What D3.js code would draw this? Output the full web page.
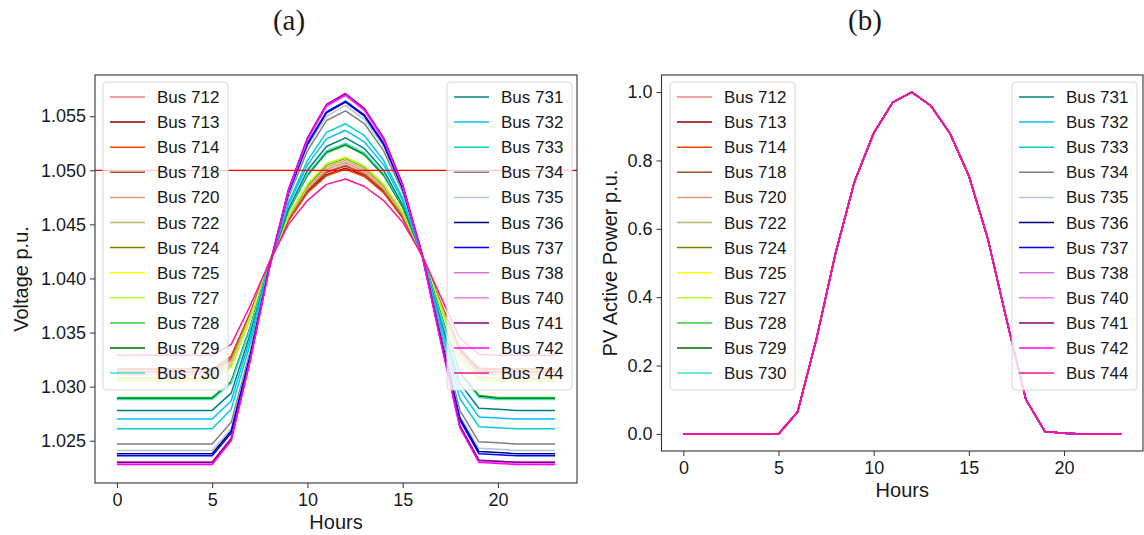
<!DOCTYPE html>
<html>
<head>
<meta charset="utf-8">
<script src="https://cdn.jsdelivr.net/npm/d3@7"></script>
<style>
  body { margin: 0; background: #fff; }
  text { font-family: "Liberation Sans", Arial, sans-serif; fill: #1a1a1a; }
</style>
</head>
<body>
<div id="chart"></div>
<script>
// hours of the day
const hours = [0,1,2,3,4,5,6,7,8,9,10,11,12,13,14,15,16,17,18,19,20,21,22,23];
const hourTicks = [0, 5, 10, 15, 20];
const voltTicks = [1.025, 1.030, 1.035, 1.040, 1.045, 1.050, 1.055];
const pvTicks = [0.0, 0.2, 0.4, 0.6, 0.8, 1.0];
const voltLimit = 1.050;

const buses = ["Bus 712","Bus 713","Bus 714","Bus 718","Bus 720","Bus 722","Bus 724","Bus 725",
  "Bus 727","Bus 728","Bus 729","Bus 730","Bus 731","Bus 732","Bus 733","Bus 734","Bus 735",
  "Bus 736","Bus 737","Bus 738","Bus 740","Bus 741","Bus 742","Bus 744"];

// bus voltages (p.u.) per hour
const v712 = [1.0313,1.0313,1.0313,1.0313,1.0313,1.0313,1.0325,1.0367,1.0415,1.0455,1.0482,1.0499,1.0505,1.0497,1.0482,1.0458,1.0422,1.0376,1.0332,1.0314,1.0313,1.0313,1.0313,1.0313];
const v713 = [1.0316,1.0316,1.0316,1.0316,1.0316,1.0316,1.0328,1.0368,1.0415,1.0454,1.0480,1.0496,1.0502,1.0495,1.0480,1.0456,1.0422,1.0377,1.0335,1.0317,1.0316,1.0316,1.0316,1.0316];
const v714 = [1.0316,1.0316,1.0316,1.0316,1.0316,1.0316,1.0328,1.0368,1.0414,1.0453,1.0479,1.0495,1.0501,1.0494,1.0479,1.0456,1.0421,1.0377,1.0334,1.0317,1.0316,1.0316,1.0316,1.0316];
const v718 = [1.0314,1.0314,1.0314,1.0314,1.0314,1.0314,1.0326,1.0367,1.0415,1.0455,1.0481,1.0498,1.0504,1.0496,1.0481,1.0457,1.0422,1.0377,1.0333,1.0315,1.0314,1.0314,1.0314,1.0314];
const v720 = [1.0311,1.0311,1.0311,1.0311,1.0311,1.0311,1.0324,1.0366,1.0415,1.0456,1.0483,1.0501,1.0507,1.0499,1.0483,1.0459,1.0423,1.0376,1.0331,1.0312,1.0311,1.0311,1.0311,1.0311];
const v722 = [1.0308,1.0308,1.0308,1.0308,1.0308,1.0308,1.0321,1.0364,1.0415,1.0457,1.0485,1.0503,1.0509,1.0501,1.0485,1.0460,1.0423,1.0374,1.0328,1.0309,1.0308,1.0308,1.0308,1.0308];
const v724 = [1.0306,1.0306,1.0306,1.0306,1.0306,1.0306,1.0319,1.0363,1.0415,1.0458,1.0486,1.0505,1.0511,1.0503,1.0486,1.0461,1.0423,1.0374,1.0326,1.0307,1.0306,1.0306,1.0306,1.0306];
const v725 = [1.0306,1.0306,1.0306,1.0306,1.0306,1.0306,1.0319,1.0364,1.0415,1.0458,1.0487,1.0506,1.0512,1.0504,1.0487,1.0462,1.0423,1.0374,1.0327,1.0307,1.0306,1.0306,1.0306,1.0306];
const v727 = [1.0305,1.0305,1.0305,1.0305,1.0305,1.0305,1.0318,1.0363,1.0415,1.0458,1.0487,1.0506,1.0512,1.0504,1.0487,1.0461,1.0423,1.0373,1.0326,1.0306,1.0305,1.0305,1.0305,1.0305];
const v728 = [1.0290,1.0290,1.0290,1.0290,1.0290,1.0290,1.0305,1.0355,1.0413,1.0462,1.0495,1.0516,1.0523,1.0514,1.0495,1.0466,1.0423,1.0367,1.0313,1.0292,1.0290,1.0290,1.0290,1.0290];
const v729 = [1.0289,1.0289,1.0289,1.0289,1.0289,1.0289,1.0304,1.0355,1.0414,1.0463,1.0496,1.0517,1.0524,1.0515,1.0496,1.0466,1.0423,1.0367,1.0313,1.0291,1.0289,1.0289,1.0289,1.0289];
const v730 = [1.0288,1.0288,1.0288,1.0288,1.0288,1.0288,1.0303,1.0354,1.0414,1.0463,1.0497,1.0518,1.0525,1.0516,1.0497,1.0467,1.0423,1.0366,1.0312,1.0290,1.0288,1.0288,1.0288,1.0288];
const v731 = [1.0278,1.0278,1.0278,1.0278,1.0278,1.0278,1.0294,1.0349,1.0412,1.0464,1.0500,1.0522,1.0530,1.0520,1.0500,1.0468,1.0422,1.0361,1.0303,1.0280,1.0279,1.0278,1.0278,1.0278];
const v732 = [1.0270,1.0270,1.0270,1.0270,1.0270,1.0270,1.0287,1.0345,1.0412,1.0468,1.0505,1.0529,1.0537,1.0526,1.0505,1.0472,1.0422,1.0358,1.0297,1.0272,1.0271,1.0270,1.0270,1.0270];
const v733 = [1.0261,1.0261,1.0261,1.0261,1.0261,1.0261,1.0279,1.0340,1.0410,1.0470,1.0509,1.0535,1.0543,1.0532,1.0509,1.0474,1.0422,1.0354,1.0289,1.0263,1.0262,1.0261,1.0261,1.0261];
const v734 = [1.0247,1.0247,1.0247,1.0247,1.0247,1.0247,1.0267,1.0333,1.0410,1.0475,1.0518,1.0546,1.0555,1.0543,1.0518,1.0480,1.0423,1.0349,1.0278,1.0249,1.0248,1.0247,1.0247,1.0247];
const v735 = [1.0241,1.0241,1.0241,1.0241,1.0241,1.0241,1.0261,1.0330,1.0410,1.0477,1.0522,1.0550,1.0560,1.0547,1.0522,1.0482,1.0423,1.0346,1.0273,1.0243,1.0242,1.0241,1.0241,1.0241];
const v736 = [1.0238,1.0238,1.0238,1.0238,1.0238,1.0238,1.0259,1.0329,1.0410,1.0479,1.0524,1.0553,1.0563,1.0550,1.0524,1.0483,1.0423,1.0345,1.0271,1.0240,1.0239,1.0238,1.0238,1.0238];
const v737 = [1.0236,1.0236,1.0236,1.0236,1.0236,1.0236,1.0257,1.0328,1.0410,1.0479,1.0525,1.0554,1.0564,1.0551,1.0525,1.0484,1.0423,1.0344,1.0269,1.0238,1.0237,1.0236,1.0236,1.0236];
const v738 = [1.0230,1.0230,1.0230,1.0230,1.0230,1.0230,1.0252,1.0325,1.0410,1.0481,1.0528,1.0559,1.0569,1.0555,1.0528,1.0486,1.0423,1.0342,1.0264,1.0232,1.0231,1.0230,1.0230,1.0230];
const v740 = [1.0229,1.0229,1.0229,1.0229,1.0229,1.0229,1.0251,1.0324,1.0410,1.0481,1.0529,1.0560,1.0570,1.0556,1.0529,1.0486,1.0423,1.0342,1.0263,1.0231,1.0230,1.0229,1.0229,1.0229];
const v741 = [1.0230,1.0230,1.0230,1.0230,1.0230,1.0230,1.0252,1.0325,1.0411,1.0482,1.0530,1.0561,1.0571,1.0557,1.0530,1.0487,1.0424,1.0343,1.0264,1.0232,1.0231,1.0230,1.0230,1.0230];
const v742 = [1.0228,1.0228,1.0228,1.0228,1.0228,1.0228,1.0250,1.0324,1.0409,1.0481,1.0529,1.0560,1.0570,1.0556,1.0529,1.0486,1.0423,1.0341,1.0262,1.0230,1.0229,1.0228,1.0228,1.0228];
const v744 = [1.0329,1.0329,1.0329,1.0329,1.0329,1.0329,1.0339,1.0375,1.0415,1.0450,1.0472,1.0487,1.0492,1.0485,1.0472,1.0452,1.0422,1.0383,1.0345,1.0330,1.0329,1.0329,1.0329,1.0329];

// PV active power (p.u.), same profile at every bus
const pvPower = [0,0,0,0,0,0,0.064,0.28,0.53,0.74,0.88,0.97,1.0,0.96,0.88,0.755,0.57,0.33,0.10,0.007,0.002,0,0,0];

const voltSeries = [v712,v713,v714,v718,v720,v722,v724,v725,v727,v728,v729,v730,
  v731,v732,v733,v734,v735,v736,v737,v738,v740,v741,v742,v744];
const pvSeries = buses.map(() => pvPower);

const colors = ["lightcoral","darkred","orangered","sienna","darksalmon","darkkhaki","olive","yellow",
  "greenyellow","limegreen","darkgreen","turquoise","teal","deepskyblue","darkturquoise","gray",
  "lightsteelblue","navy","blue","orchid","violet","purple","magenta","deeppink"];

const W = 1144, H = 535;
const svg = d3.select("#chart").append("svg")
  .attr("width", W).attr("height", H);

// panel titles
svg.append("text").attr("x", 289).attr("y", 30).attr("text-anchor", "middle")
  .style("font-family", "'Liberation Serif', 'Times New Roman', serif").style("font-size", "29px")
  .text("(a)");
svg.append("text").attr("x", 865).attr("y", 30).attr("text-anchor", "middle")
  .style("font-family", "'Liberation Serif', 'Times New Roman', serif").style("font-size", "29px")
  .text("(b)");

function drawPanel(p) {
  const x = d3.scaleLinear().domain([-1.15, 24.15]).range([p.left, p.right]);
  const y = d3.scaleLinear().domain(p.yDomain).range([p.bottom, p.top]);
  const g = svg.append("g");

  const clipId = "clip" + p.id;
  g.append("clipPath").attr("id", clipId).append("rect")
    .attr("x", p.left).attr("y", p.top)
    .attr("width", p.right - p.left).attr("height", p.bottom - p.top);

  const plot = g.append("g").attr("clip-path", `url(#${clipId})`);
  const line = d3.line()
    .x((d, i) => x(hours[i]))
    .y(d => y(d));

  p.series.forEach((s, i) => {
    plot.append("path")
      .datum(s)
      .attr("fill", "none")
      .attr("stroke", colors[i])
      .attr("stroke-width", 1.5)
      .attr("stroke-linejoin", "round")
      .attr("d", line);
  });

  if (p.limit !== undefined) {
    plot.append("line")
      .attr("x1", p.left).attr("x2", p.right)
      .attr("y1", y(p.limit)).attr("y2", y(p.limit))
      .attr("stroke", "red").attr("stroke-width", 1.2);
  }

  // axes
  const xAxis = g.append("g")
    .attr("transform", `translate(0,${p.bottom})`)
    .call(d3.axisBottom(x).tickValues(hourTicks).tickFormat(d3.format("d")).tickSize(5).tickPadding(5));
  const yAxis = g.append("g")
    .attr("transform", `translate(${p.left},0)`)
    .call(d3.axisLeft(y).tickValues(p.yTicks).tickFormat(p.yFormat).tickSize(5).tickPadding(4));
  [xAxis, yAxis].forEach(a => {
    a.select(".domain").remove();
    a.selectAll(".tick line").attr("stroke", "#333").attr("stroke-width", 1);
    a.selectAll(".tick text").style("font-size", "18px").attr("fill", "#1a1a1a");
  });

  g.append("rect")
    .attr("x", p.left).attr("y", p.top)
    .attr("width", p.right - p.left).attr("height", p.bottom - p.top)
    .attr("fill", "none").attr("stroke", "#333").attr("stroke-width", 1.1);

  g.append("text")
    .attr("x", (p.left + p.right) / 2).attr("y", p.bottom + 46)
    .attr("text-anchor", "middle").style("font-size", "20px")
    .text("Hours");
  g.append("text")
    .attr("transform", `translate(${p.yLabelX},${(p.top + p.bottom) / 2}) rotate(-90)`)
    .attr("text-anchor", "middle").style("font-size", "20px")
    .text(p.yLabel);

  // two legends, 12 entries each
  [0, 1].forEach(k => {
    const lx = p.legendX[k], ly = 82;
    const lg = g.append("g");
    lg.append("rect")
      .attr("x", lx).attr("y", ly).attr("width", 125).attr("height", 308)
      .attr("rx", 4)
      .attr("fill", "white").attr("fill-opacity", 0.8)
      .attr("stroke", "#d6d6d6").attr("stroke-width", 1);
    buses.slice(k * 12, k * 12 + 12).forEach((b, j) => {
      const idx = k * 12 + j;
      const cy = 97 + j * 25.1;
      lg.append("line")
        .attr("x1", lx + 7).attr("x2", lx + 42)
        .attr("y1", cy).attr("y2", cy)
        .attr("stroke", colors[idx]).attr("stroke-width", 1.5);
      lg.append("text")
        .attr("x", lx + 54).attr("y", cy + 6)
        .style("font-size", "17px")
        .text(b);
    });
  });
}

drawPanel({
  id: "a", left: 95, right: 577, top: 75, bottom: 483,
  yDomain: [1.02109, 1.05881], yTicks: voltTicks, yFormat: d3.format(".3f"),
  series: voltSeries, limit: voltLimit,
  yLabel: "Voltage p.u.", yLabelX: 28, legendX: [103, 447]
});

drawPanel({
  id: "b", left: 661.5, right: 1143, top: 75, bottom: 451,
  yDomain: [-0.05, 1.05], yTicks: pvTicks, yFormat: d3.format(".1f"),
  series: pvSeries,
  yLabel: "PV Active Power p.u.", yLabelX: 617, legendX: [670, 1012]
});
</script>
</body>
</html>
